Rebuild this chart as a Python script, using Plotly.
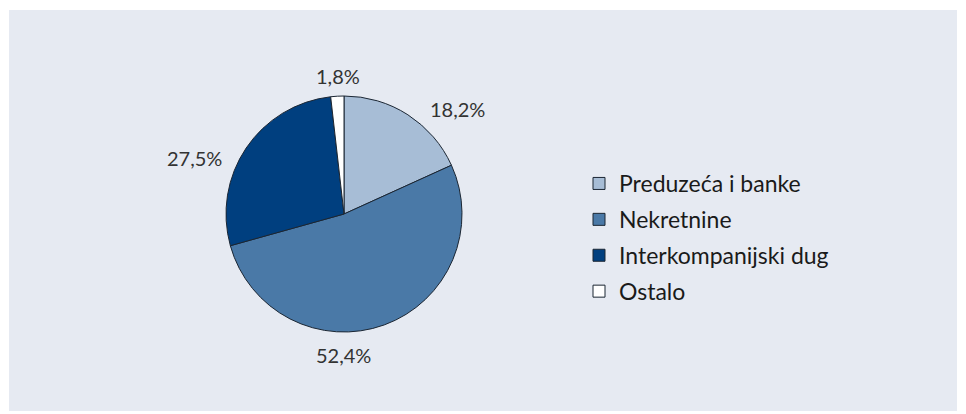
import plotly.graph_objects as go

categories = ["Preduzeća i banke", "Nekretnine", "Interkompanijski dug", "Ostalo"]
shares = [18.2, 52.4, 27.5, 1.8]
colors = ["#a7bdd6", "#4a79a7", "#003f7f", "#ffffff"]

# label centres (pixels) - styling
label_px = [(457, 109), (343, 355), (194, 158), (338, 76)]

W, H = 966, 414
ml, mr, mt, mb = 9, 9, 10, 3
pw, ph = W - ml - mr, H - mt - mb
cx, cy, r = 344, 214, 118
FONT = "Lato"
edge = "#1b2633"


def px2paper(x, y):
    return (x - ml) / pw, 1 - (y - mt) / ph


fig = go.Figure()
fig.add_trace(go.Pie(
    labels=categories,
    values=shares,
    sort=False,
    direction="clockwise",
    rotation=0,
    marker=dict(colors=colors, line=dict(color=edge, width=1)),
    textinfo="none",
    automargin=False,
    showlegend=False,
    domain=dict(x=[(cx - r - ml) / pw, (cx + r - ml) / pw],
                y=[1 - (cy + r - mt) / ph, 1 - (cy - r - mt) / ph]),
    hoverinfo="label+percent",
))

for name, col in zip(categories, colors):
    fig.add_trace(go.Scatter(
        x=[None], y=[None], mode="markers", name=name, legendgroup=name,
        marker=dict(symbol="square", size=12, color=col, line=dict(color=edge, width=1)),
        hoverinfo="skip",
    ))

annotations = []
for v, (x, y) in zip(shares, label_px):
    xp, yp = px2paper(x, y)
    annotations.append(dict(
        x=xp, y=yp, xref="paper", yref="paper", showarrow=False,
        text=f"{v:.1f}%".replace(".", ","), xanchor="center", yanchor="middle",
        font=dict(size=20, color="#333333", family=FONT),
    ))

lx, ly = px2paper(579, 162)
fig.update_layout(
    width=W, height=H,
    margin=dict(l=ml, r=mr, t=mt, b=mb),
    paper_bgcolor="white",
    plot_bgcolor="rgba(0,0,0,0)",
    separators=", ",
    font=dict(family=FONT, color="#1a1a1a"),
    xaxis=dict(visible=False),
    yaxis=dict(visible=False),
    showlegend=True,
    legend=dict(x=lx, y=ly, xanchor="left", yanchor="top",
                font=dict(size=23, color="#1a1a1a", family=FONT), bgcolor="rgba(0,0,0,0)",
                itemwidth=30, tracegroupgap=3, traceorder="grouped"),
    annotations=annotations,
    shapes=[dict(type="rect", xref="paper", yref="paper", x0=0, x1=1, y0=0, y1=1,
                 fillcolor="#e6eaf2", line=dict(width=0), layer="below")],
)

fig.write_html("out.html")
